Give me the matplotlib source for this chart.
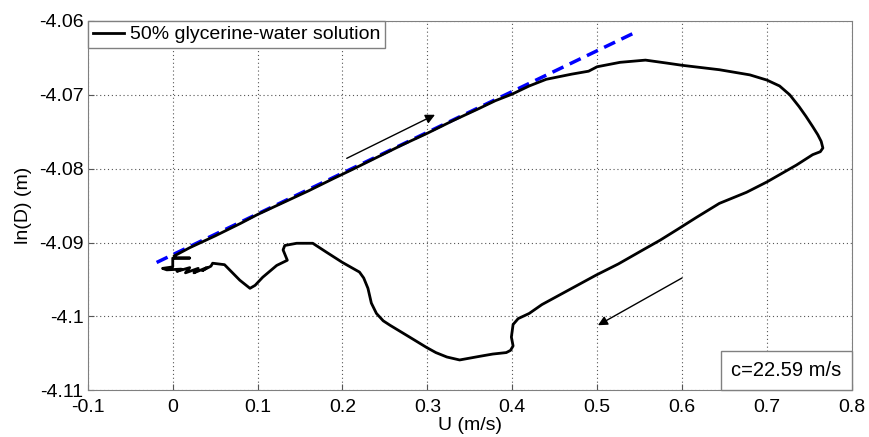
import numpy as np
import matplotlib.pyplot as plt
from matplotlib.offsetbox import AnchoredText

plt.rcParams['font.family'] = ['Liberation Sans', 'DejaVu Sans']

# loop U-ln(D)
u = [0.002, 0.02, 0.05, 0.08, 0.10, 0.13, 0.16, 0.19, 0.21, 0.24, 0.27, 0.30,
     0.33, 0.36, 0.38, 0.40, 0.42, 0.44, 0.47, 0.49, 0.50, 0.527, 0.557, 0.582,
     0.60, 0.644, 0.68, 0.70, 0.715, 0.727, 0.738, 0.746, 0.754, 0.760, 0.764,
     0.766, 0.763, 0.754, 0.735, 0.70, 0.676, 0.644, 0.617, 0.595, 0.574,
     0.554, 0.525, 0.499, 0.459, 0.435, 0.42, 0.407, 0.401, 0.399, 0.401,
     0.398, 0.393, 0.377, 0.362, 0.338, 0.323, 0.310, 0.299, 0.279, 0.256,
     0.248, 0.240, 0.234, 0.230, 0.225, 0.220, 0.200, 0.181, 0.165, 0.146,
     0.132, 0.130, 0.135, 0.1225, 0.106, 0.097, 0.091, 0.079, 0.067, 0.061,
     0.047, 0.045, 0.035, 0.040, 0.025, 0.030, 0.015, 0.020, 0.005, 0.010,
     -0.007, -0.012, 0.0, 0.0, 0.0, 0.020, 0.003]
lnD = [-4.0918, -4.0907, -4.0891, -4.0874, -4.0862, -4.0846, -4.0830, -4.0813,
       -4.0802, -4.0785, -4.0768, -4.0752, -4.0735, -4.0719, -4.0708, -4.0699,
       -4.0688, -4.0679, -4.0672, -4.0668, -4.0662, -4.0656, -4.0653, -4.0657,
       -4.0660, -4.0666, -4.0673, -4.0680, -4.0688, -4.0700, -4.0716, -4.0729,
       -4.0743, -4.0754, -4.0763, -4.0772, -4.0777, -4.0781, -4.0795, -4.0818,
       -4.0832, -4.0847, -4.0866, -4.0882, -4.0897, -4.0910, -4.0929, -4.0944,
       -4.0969, -4.0984, -4.0996, -4.1003, -4.1011, -4.1028, -4.1040, -4.1046,
       -4.1049, -4.1051, -4.1054, -4.1059, -4.1055, -4.1049, -4.1042, -4.1028,
       -4.1012, -4.1006, -4.0996, -4.0982, -4.0962, -4.0948, -4.0940, -4.0927,
       -4.0913, -4.0901, -4.0901, -4.0904, -4.0910, -4.0924, -4.0931, -4.0947,
       -4.0958, -4.0962, -4.0951, -4.0937, -4.0930, -4.0928, -4.0932, -4.0938,
       -4.0934, -4.0941, -4.0935, -4.0941, -4.0934, -4.0939, -4.0936, -4.0937,
       -4.0935, -4.0933, -4.0927, -4.0921, -4.0921, -4.0921]

# linear fit (blue dashed)
fit_u = [-0.019, 0.544]
fit_lnD = [-4.0927, -4.0616]

# arrows: (tail, head)
arrow_up = ((0.205, -4.0786), (0.309, -4.0727))
arrow_down = ((0.600, -4.0948), (0.501, -4.1012))

fig = plt.figure(figsize=(8.7, 4.37), dpi=100)
ax = fig.add_axes([0.101, 0.107, 0.878, 0.845])

ax.plot(fit_u, fit_lnD, color='#0000ff', lw=2.5, ls=(0, (3.5, 2)), zorder=3)
ax.plot(u, lnD, color='black', lw=2, label='50% glycerine-water solution',
        zorder=4, solid_joinstyle='round')

for tail, head in (arrow_up, arrow_down):
    ax.annotate('', xy=head, xytext=tail,
                arrowprops=dict(arrowstyle='-|>', color='black', lw=1,
                                mutation_scale=14, shrinkA=0, shrinkB=0))

ax.set_xlim(-0.1, 0.8)
ax.set_ylim(-4.11, -4.06)
ax.set_xticks(np.arange(-0.1, 0.81, 0.1))
ax.set_xticklabels(['-0.1', '0', '0.1', '0.2', '0.3', '0.4', '0.5', '0.6', '0.7', '0.8'])
ax.set_yticks([-4.11, -4.10, -4.09, -4.08, -4.07, -4.06])
ax.set_yticklabels(['-4.11', '-4.1', '-4.09', '-4.08', '-4.07', '-4.06'])
ax.tick_params(direction='in', length=4, labelsize=14, color='#555555')
ax.tick_params(axis='x', pad=6)
ax.tick_params(axis='y', pad=3)
ax.grid(True, ls=(0, (1, 2.5)), color='#555555', lw=0.8)
for s in ax.spines.values():
    s.set_color('#808080')

ax.set_xlabel('U (m/s)', fontsize=14, labelpad=1)
ax.set_ylabel('ln(D) (m)', fontsize=14, labelpad=5)

leg = ax.legend(loc='upper left', borderaxespad=0, fancybox=False,
                fontsize=14, handlelength=1.6, handletextpad=0.3,
                borderpad=0.25, framealpha=1)
leg.get_frame().set_edgecolor('#808080')

at = AnchoredText('c=22.59 m/s', loc='lower right', borderpad=0,
                  prop=dict(fontsize=14.5), frameon=True, pad=0.5)
at.patch.set_edgecolor('#808080')
ax.add_artist(at)

plt.savefig('out.png', dpi=100)
